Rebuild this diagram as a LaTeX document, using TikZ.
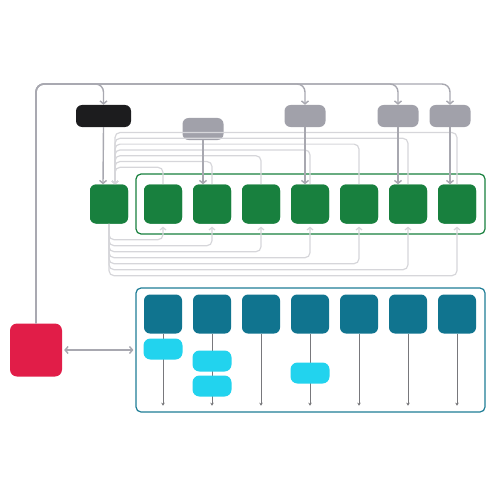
\documentclass[tikz,border=0pt]{standalone}
\usepackage{tikz}
\usetikzlibrary{shapes,arrows.meta}
\definecolor{ch_green}{RGB}{24,128,62}
\definecolor{ch_teal}{RGB}{16,116,143}
\definecolor{ch_cyan}{RGB}{34,211,238}
\definecolor{ch_red}{RGB}{225,29,72}
\definecolor{ch_black}{RGB}{28,28,30}
\definecolor{ch_gray}{RGB}{161,161,170}
\definecolor{ch_line}{RGB}{168,168,176}
\definecolor{ch_faint}{RGB}{214,214,218}
\definecolor{ch_drop}{RGB}{120,120,124}
\definecolor{ch_tealline}{RGB}{30,125,150}
\tikzstyle{gn}=[rectangle,rounded corners=6pt,fill=ch_green,inner sep=0pt,
  minimum width=38pt,minimum height=39pt]
\tikzstyle{tn}=[rectangle,rounded corners=6pt,fill=ch_teal,inner sep=0pt,
  minimum width=38pt,minimum height=39pt]
\tikzstyle{cn}=[rectangle,rounded corners=7pt,fill=ch_cyan,inner sep=0pt,
  minimum width=39pt,minimum height=21pt]
\tikzstyle{kn}=[rectangle,rounded corners=6pt,fill=ch_black,inner sep=0pt,
  minimum width=55pt,minimum height=22pt]
\tikzstyle{qn}=[rectangle,rounded corners=6pt,fill=ch_gray,inner sep=0pt,
  minimum width=41pt,minimum height=22pt]
\tikzstyle{rn}=[rectangle,rounded corners=7pt,fill=ch_red,inner sep=0pt,
  minimum width=52pt,minimum height=53pt]
\tikzstyle{box}=[rectangle,rounded corners=5pt,line width=1.2pt,fill=white,inner sep=0pt]
\tikzstyle{feed}=[draw=ch_line,line width=1.4pt,rounded corners=8pt,
  -{Straight Barb[length=3pt,width=7pt]}]
\tikzstyle{link}=[draw=ch_line,line width=1.4pt,shorten <=2pt,shorten >=2pt,
  {Straight Barb[length=3pt,width=7pt]}-{Straight Barb[length=3pt,width=7pt]}]
\tikzstyle{loopline}=[draw=ch_faint,line width=1.2pt,rounded corners=5pt,
  -{Straight Barb[length=2.5pt,width=6pt]}]
\tikzstyle{drop}=[draw=ch_drop,line width=1pt,-{Stealth[length=3pt,width=3.5pt]}]
\begin{document}
\begin{tikzpicture}[x=1pt,y=-1pt]
    \useasboundingbox (0,0) rectangle (500,500);
    % containers
    \node [style=box,draw=ch_green,minimum width=349pt,minimum height=60pt] (top) at (310.5,204) {};
    \node [style=box,draw=ch_tealline,minimum width=349pt,minimum height=124pt] (bot) at (310.5,350) {};
    % sources
    \node [style=rn] (src) at (36,350) {};
    \node [style=kn] (k0) at (103.5,116) {};
    \node [style=qn] (q1) at (203,129) {};
    \node [style=qn] (q2) at (305,116) {};
    \node [style=qn] (q3) at (398,116) {};
    \node [style=qn] (q4) at (450,116) {};
    \coordinate (corner) at (36,84);
    % green row
    \node [style=gn] (g0) at (109,204) {};
    \node [style=gn] (g1) at (163,204) {};
    \node [style=gn] (g2) at (212,204) {};
    \node [style=gn] (g3) at (261,204) {};
    \node [style=gn] (g4) at (310,204) {};
    \node [style=gn] (g5) at (359,204) {};
    \node [style=gn] (g6) at (408,204) {};
    \node [style=gn] (g7) at (457,204) {};
    % feedback bundles
    \foreach \i in {1,...,7} {
      \draw [style=loopline] (g\i.north) |- ([xshift=6pt,yshift={17pt+(\i-1)*5.8pt}]g0.north)
        -- ([xshift=6pt]g0.north);
      \draw [style=loopline] (g0.south) |- ([yshift={-16pt-(\i-1)*6pt}]g\i.south)
        -- ([yshift=-3pt]g\i.south);
    }
    % top feeds
    \draw [style=feed] (src.north) -- (corner) -| (k0.north);
    \draw [style=feed] (src.north) -- (corner) -| (q2.north);
    \draw [style=feed] (src.north) -- (corner) -| (q3.north);
    \draw [style=feed] (src.north) -- (corner) -| (q4.north);
    \draw [style=feed,rounded corners=0pt] (k0.south) -- ([xshift=-6pt]g0.north);
    \draw [style=feed,rounded corners=0pt] (q1.south) -- ([xshift=-9pt]g2.north);
    \draw [style=feed,rounded corners=0pt] (q2.south) -- ([xshift=-5pt]g4.north);
    \draw [style=feed,rounded corners=0pt] (q3.south) -- ([xshift=-10pt]g6.north);
    \draw [style=feed,rounded corners=0pt] (q4.south) -- ([xshift=-7pt]g7.north);
    \node [style=gn] at (g0) {};
    \foreach \i in {1,...,7} \node [style=gn] at (g\i) {};
    % link
    \draw [style=link] (src.east) -- (bot.west);
    % teal row
    \node [style=tn] (t1) at (163,314) {};
    \node [style=tn] (t2) at (212,314) {};
    \node [style=tn] (t3) at (261,314) {};
    \node [style=tn] (t4) at (310,314) {};
    \node [style=tn] (t5) at (359,314) {};
    \node [style=tn] (t6) at (408,314) {};
    \node [style=tn] (t7) at (457,314) {};
    \foreach \i in {1,...,7} {
      \coordinate (e\i) at ([yshift=-72pt]t\i.south);
      \draw [style=drop] (t\i.south) -- (e\i);
    }
    \node [style=cn] (c1) at (163,349) {};
    \node [style=cn] (c2) at (212,361) {};
    \node [style=cn] (c3) at (212,386) {};
    \node [style=cn] (c4) at (310,373) {};
\end{tikzpicture}
\end{document}
